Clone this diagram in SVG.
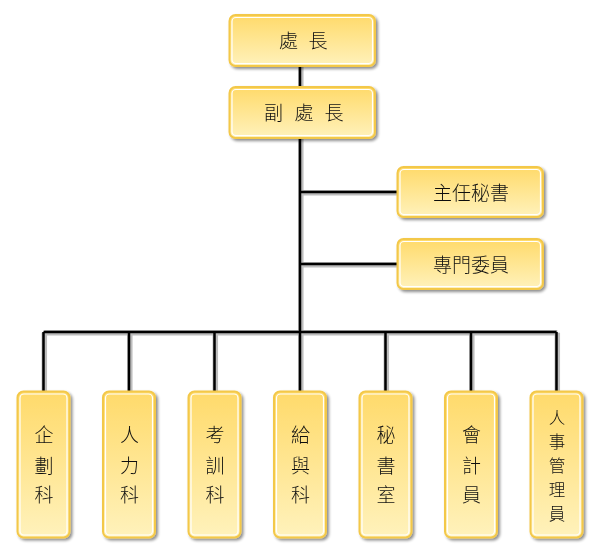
<svg xmlns="http://www.w3.org/2000/svg" width="600" height="557" viewBox="0 0 600 557">
<defs>
<linearGradient id="g" x1="0" y1="0" x2="0" y2="1">
<stop offset="0" stop-color="#FFDA6A"/>
<stop offset="1" stop-color="#FFF2BC"/>
</linearGradient>
<filter id="sh" x="-20%" y="-20%" width="140%" height="140%">
<feGaussianBlur in="SourceAlpha" stdDeviation="1.5"/>
<feOffset dx="1.5" dy="1.5" result="b"/>
<feComponentTransfer><feFuncA type="linear" slope="0.45"/></feComponentTransfer>
<feMerge><feMergeNode/><feMergeNode in="SourceGraphic"/></feMerge>
</filter>
</defs>
<style>
.box{fill:url(#g);stroke:#F3C84A;stroke-width:2}
.in{fill:none;stroke:#FFFFFF;stroke-width:1.2}
.t{font-family:"Noto Sans CJK TC","Noto Sans CJK SC",sans-serif;font-size:19px;font-weight:300;fill:#111;text-anchor:middle}
.s{font-size:16.5px}
.sh{fill:none;stroke:#BDBDBD;stroke-width:5.5}
.ln{fill:none;stroke:#000;stroke-width:2.5}
</style>
<g id="connectors">
<g transform="translate(0.8,0.8)">
<path class="sh" d="M300 66V332M300 192H398M300 264H398M43.5 332H556.5M43.5 332V392M129 332V392M214.5 332V392M300 332V392M385.5 332V392M471 332V392M556.5 332V392"/>
</g>
<path class="ln" d="M300 66V332M300 192H398M300 264H398M43.5 332H556.5M43.5 332V392M129 332V392M214.5 332V392M300 332V392M385.5 332V392M471 332V392M556.5 332V392"/>
</g>
<g id="n1" filter="url(#sh)"><rect class="box" x="229.5" y="15" width="145.5" height="51" rx="6"/><rect class="in" x="232" y="17.5" width="140.5" height="46" rx="4"/><text class="t" x="288.5" y="48">處</text><text class="t" x="318" y="48">長</text></g>
<g id="n2" filter="url(#sh)"><rect class="box" x="229.5" y="87" width="145.5" height="51" rx="6"/><rect class="in" x="232" y="89.5" width="140.5" height="46" rx="4"/><text class="t" x="273.5" y="120">副</text><text class="t" x="304" y="120">處</text><text class="t" x="334" y="120">長</text></g>
<g id="n3" filter="url(#sh)"><rect class="box" x="397.5" y="167" width="145.5" height="50" rx="6"/><rect class="in" x="400" y="169.5" width="140.5" height="45" rx="4"/><text class="t" x="471" y="200">主任秘書</text></g>
<g id="n4" filter="url(#sh)"><rect class="box" x="397.5" y="239" width="145.5" height="50" rx="6"/><rect class="in" x="400" y="241.5" width="140.5" height="45" rx="4"/><text class="t" x="471" y="271.5">專門委員</text></g>
<g id="b1" filter="url(#sh)"><rect class="box" x="17.5" y="391.5" width="52" height="146" rx="6"/><rect class="in" x="20" y="394" width="47" height="141" rx="4"/><text class="t" x="44" y="442">企</text><text class="t" x="44" y="472.5">劃</text><text class="t" x="44" y="502">科</text></g>
<g id="b2" filter="url(#sh)"><rect class="box" x="103" y="391.5" width="52" height="146" rx="6"/><rect class="in" x="105.5" y="394" width="47" height="141" rx="4"/><text class="t" x="129.5" y="442">人</text><text class="t" x="129.5" y="472.5">力</text><text class="t" x="129.5" y="502">科</text></g>
<g id="b3" filter="url(#sh)"><rect class="box" x="188.5" y="391.5" width="52" height="146" rx="6"/><rect class="in" x="191" y="394" width="47" height="141" rx="4"/><text class="t" x="215" y="442">考</text><text class="t" x="215" y="472.5">訓</text><text class="t" x="215" y="502">科</text></g>
<g id="b4" filter="url(#sh)"><rect class="box" x="274" y="391.5" width="52" height="146" rx="6"/><rect class="in" x="276.5" y="394" width="47" height="141" rx="4"/><text class="t" x="300.5" y="442">給</text><text class="t" x="300.5" y="472.5">與</text><text class="t" x="300.5" y="502">科</text></g>
<g id="b5" filter="url(#sh)"><rect class="box" x="359.5" y="391.5" width="52" height="146" rx="6"/><rect class="in" x="362" y="394" width="47" height="141" rx="4"/><text class="t" x="386" y="442">秘</text><text class="t" x="386" y="472.5">書</text><text class="t" x="386" y="502">室</text></g>
<g id="b6" filter="url(#sh)"><rect class="box" x="445" y="391.5" width="52" height="146" rx="6"/><rect class="in" x="447.5" y="394" width="47" height="141" rx="4"/><text class="t" x="471.5" y="442">會</text><text class="t" x="471.5" y="472.5">計</text><text class="t" x="471.5" y="502">員</text></g>
<g id="b7" filter="url(#sh)"><rect class="box" x="530.5" y="391.5" width="52" height="146" rx="6"/><rect class="in" x="533" y="394" width="47" height="141" rx="4"/><text class="t s" x="557" y="424">人</text><text class="t s" x="557" y="448">事</text><text class="t s" x="557" y="472">管</text><text class="t s" x="557" y="496">理</text><text class="t s" x="557" y="520">員</text></g>
</svg>
